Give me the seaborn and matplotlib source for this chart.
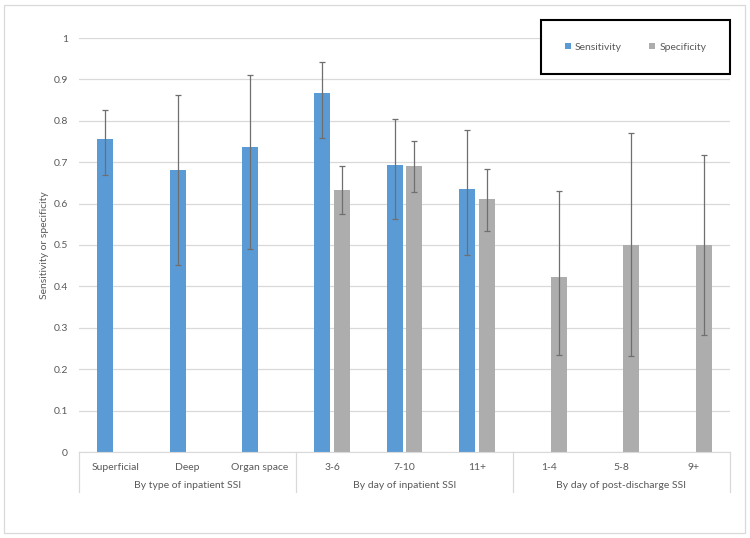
import pandas as pd
import numpy as np
import matplotlib.pyplot as plt
import matplotlib.transforms as mtransforms
from matplotlib.patches import Rectangle
import seaborn as sns

# data
groups = ['By type of inpatient SSI', 'By day of inpatient SSI', 'By day of post-discharge SSI']
group_cats = [['Superficial', 'Deep', 'Organ space'],
              ['3-6', '7-10', '11+'],
              ['1-4', '5-8', '9+']]
categories = [c for g in group_cats for c in g]
measures = ['Sensitivity', 'Specificity']

sens_cats = ['Superficial', 'Deep', 'Organ space', '3-6', '7-10', '11+']
sens_val = [0.755, 0.681, 0.737, 0.868, 0.693, 0.636]
sens_lo = [0.670, 0.452, 0.490, 0.758, 0.564, 0.477]
sens_hi = [0.827, 0.862, 0.910, 0.941, 0.804, 0.777]

spec_cats = ['3-6', '7-10', '11+', '1-4', '5-8', '9+']
spec_val = [0.633, 0.692, 0.611, 0.423, 0.500, 0.500]
spec_lo = [0.574, 0.629, 0.535, 0.234, 0.232, 0.283]
spec_hi = [0.691, 0.751, 0.683, 0.631, 0.770, 0.718]

df = pd.concat([
    pd.DataFrame({'cat': sens_cats, 'measure': 'Sensitivity', 'value': sens_val, 'lo': sens_lo, 'hi': sens_hi}),
    pd.DataFrame({'cat': spec_cats, 'measure': 'Specificity', 'value': spec_val, 'lo': spec_lo, 'hi': spec_hi}),
], ignore_index=True)

txt = '#595959'
grid = '#d9d9d9'
plt.rcParams['font.family'] = ['Lato', 'DejaVu Sans']

fig = plt.figure(figsize=(7.5, 5.38), dpi=100)
ax = fig.add_axes([79/750, 1 - 452/538, 651/750, 414/538])

sns.barplot(data=df, x='cat', y='value', hue='measure', order=categories,
            hue_order=measures,
            palette=['#5B9BD5', '#ADADAD'], width=0.55, gap=0.2,
            errorbar=None, ax=ax, saturation=1, zorder=2)

# asymmetric CIs at the bar positions seaborn drew
for p in list(ax.patches):
    h = p.get_height()
    if h == 0 or np.isnan(h):
        continue
    xc = p.get_x() + p.get_width() / 2
    i = int(round(xc))
    m = measures[0] if xc < i else measures[1]
    r = df[(df.cat == categories[i]) & (df.measure == m)].iloc[0]
    ax.errorbar(xc, r.value, yerr=[[r.value - r.lo], [r.hi - r.value]],
                fmt='none', ecolor='#6f6f6f', elinewidth=0.9,
                capsize=2.5, capthick=0.9, zorder=3)

ax.set_ylim(0, 1)
ax.set_xlim(-0.5, len(categories) - 0.5)
ax.set_yticks(np.arange(0, 1.01, 0.1))
ax.set_yticklabels(['0'] + [f'{v:.1f}' for v in np.arange(0.1, 0.95, 0.1)] + ['1'])
ax.yaxis.grid(True, color=grid, lw=0.9, zorder=0)
ax.set_axisbelow(True)
for s in ['left', 'right', 'top']:
    ax.spines[s].set_visible(False)
ax.spines['bottom'].set_color(grid)
ax.tick_params(axis='both', length=0, colors=txt, labelsize=7.5)
ax.tick_params(axis='y', pad=8)
ax.tick_params(axis='x', pad=8)
ax.set_xlabel('')
ax.set_ylabel('Sensitivity or specificity', color=txt, fontsize=7.5, labelpad=3)

# grouped category axis
trans = mtransforms.blended_transform_factory(ax.transData, ax.transAxes)
start = 0
bounds = [-0.5]
for g, cats in zip(groups, group_cats):
    mid = start + (len(cats) - 1) / 2
    ax.text(mid, -33/414, g, transform=trans, ha='center', va='center',
            color=txt, fontsize=7.5)
    start += len(cats)
    bounds.append(start - 0.5)
for b in bounds:
    ax.plot([b, b], [0, -40/414], transform=trans, color=grid, lw=0.9, clip_on=False)

ax.get_legend().remove()
handles, labels = ax.get_legend_handles_labels()
fig.patches.append(Rectangle((541/750, 1 - 74/538), 189/750, 54/538,
                             transform=fig.transFigure, facecolor='white',
                             edgecolor='black', lw=1.5, zorder=5))
leg = fig.legend(handles, labels, loc='center', ncol=2, frameon=False,
                 bbox_to_anchor=(635.5/750, 1 - 47/538), fontsize=7.5,
                 handlelength=0.6, handleheight=0.6, handletextpad=0.4,
                 columnspacing=2.6, labelcolor=txt)
leg.set_zorder(6)

fig.patches.append(Rectangle((4/750, 5/538), 741/750, 528/538,
                             transform=fig.transFigure, facecolor='none',
                             edgecolor=grid, lw=0.9))

fig.savefig('out.png', dpi=100)
